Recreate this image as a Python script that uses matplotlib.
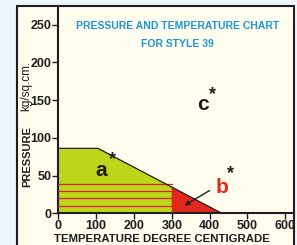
import matplotlib.pyplot as plt
from matplotlib.patches import Rectangle

# данные графика
x_ticks = [0, 100, 200, 300, 400, 500, 600]
y_ticks = [0, 50, 100, 150, 200, 250]
zone_a_x = [0, 0, 105, 432]
zone_a_y = [0, 86, 86, 0]
zone_b_x = [300, 300, 432]
zone_b_y = [0, 34.3, 0]
stripe_levels = [10, 20, 29.5, 39]
stripe_end = 300

fnt = ['Liberation Sans', 'DejaVu Sans']
blue = '#1b97d5'
green = '#bcd619'
red = '#e3281c'
dark = '#1e1e1e'

fig = plt.figure(figsize=(2.97, 2.45), dpi=100)
fig.patch.set_facecolor('#eef6fc')

# кремовая панель с рамкой
panel = Rectangle((17 / 297, -0.05), (294 - 17) / 297, (239 + 12) / 245,
                  transform=fig.transFigure, facecolor='#fffdee',
                  edgecolor=dark, linewidth=1.5, zorder=-1)
fig.patches.append(panel)

ax = fig.add_axes([58.3 / 297, 31.7 / 245, (294 - 58.3) / 297, (239 - 31.7) / 245])
ax.set_facecolor('none')
ax.set_xlim(0, 623)
ax.set_ylim(0, 274.5)

# зоны
ax.fill(zone_a_x, zone_a_y, color=green, lw=0, zorder=1)
ax.fill(zone_b_x, zone_b_y, color=red, lw=0, zorder=2)
for lvl in stripe_levels:
    ax.plot([0, stripe_end], [lvl, lvl], color='#e0201a', lw=0.9, zorder=3)
ax.plot([stripe_end, stripe_end], [0, 34.3], color='#e0201a', lw=0.9, zorder=3)
ax.plot(zone_a_x[1:], zone_a_y[1:], color=dark, lw=0.9, zorder=4)

# подписи зон
kw = dict(fontweight='bold', family=fnt, ha='center', va='center')
ax.text(113, 57, 'a', fontsize=15, color=dark, **kw)
ax.text(143, 71, '*', fontsize=13, color=dark, **kw)
ax.text(383, 144, 'c', fontsize=15, color=dark, **kw)
ax.text(408, 157, '*', fontsize=13, color=dark, **kw)
ax.text(432, 34, 'b', fontsize=15, color=red, **kw)
ax.text(455, 53, '*', fontsize=13, color=dark, **kw)
ax.annotate('', xy=(327, 8.4), xytext=(406, 32),
            arrowprops=dict(arrowstyle='-|>', color=dark, lw=1.0,
                            mutation_scale=7), zorder=5)

# оси
for s in ['top', 'right']:
    ax.spines[s].set_visible(False)
for s in ['left', 'bottom']:
    ax.spines[s].set_linewidth(1.5)
    ax.spines[s].set_color(dark)
ax.set_xticks(x_ticks)
ax.set_yticks(y_ticks)
ax.tick_params(length=4, width=1, color=dark, pad=1)
for lab in ax.get_xticklabels() + ax.get_yticklabels():
    lab.set_family(fnt)
    lab.set_fontweight('bold')
    lab.set_fontsize(9)
    lab.set_color(dark)

# заголовок и подписи осей
fig.text(177.5 / 297, 1 - 26 / 245, 'PRESSURE AND TEMPERATURE CHART',
         color=blue, fontsize=7.5, **kw)
fig.text(177.5 / 297, 1 - 44 / 245, 'FOR STYLE 39',
         color=blue, fontsize=7.5, **kw)
fig.text(27 / 297, 1 - 157 / 245, 'PRESSURE', rotation=90,
         fontsize=8, color=dark, **kw)
fig.text(26 / 297, 1 - 86 / 245, 'kg/sq.cm.', rotation=90,
         fontsize=8.5, family=fnt, color=dark, ha='center', va='center')
fig.text(162 / 297, 1 - 239 / 245, 'TEMPERATURE DEGREE CENTIGRADE',
         fontsize=8.2, color=dark, **kw)

fig.savefig('out.png', dpi=100, facecolor=fig.get_facecolor())
